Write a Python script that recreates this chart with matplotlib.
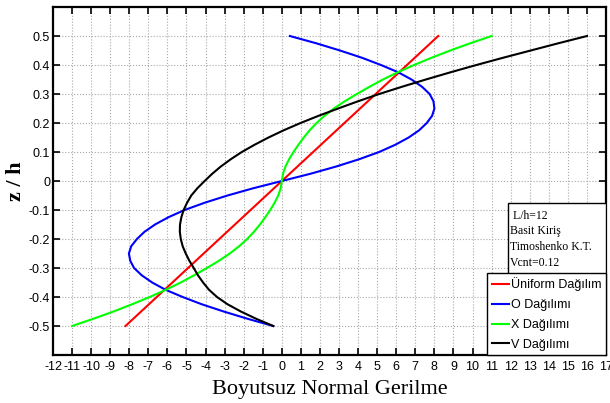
import numpy as np
import matplotlib
matplotlib.use('Agg')
import matplotlib.pyplot as plt
from matplotlib.patches import Rectangle

plt.rcParams['font.family'] = ['Liberation Sans', 'DejaVu Sans']
plt.rcParams['axes.unicode_minus'] = False

# thickness coordinate z/h for the sampled stress profiles
z_h = [-0.5, -0.475, -0.45, -0.425, -0.4, -0.375, -0.35, -0.325, -0.3, -0.275,
       -0.25, -0.225, -0.2, -0.175, -0.15, -0.125, -0.1, -0.075, -0.05, -0.025,
       0.0, 0.025, 0.05, 0.075, 0.1, 0.125, 0.15, 0.175, 0.2, 0.225, 0.25,
       0.275, 0.3, 0.325, 0.35, 0.375, 0.4, 0.425, 0.45, 0.475, 0.5]

# dimensionless normal stress for each CNT distribution
uniform_z = [-0.5, 0.5]
uniform_s = [-8.2, 8.2]
o_s = [-0.45, -1.8, -3.05, -4.2, -5.2, -6.1, -6.8, -7.35, -7.75, -7.95,
       -8.02, -7.9, -7.6, -7.2, -6.65, -5.95, -5.1, -4.05, -2.85, -1.5,
       0.0, 1.5, 2.85, 4.05, 5.1, 5.95, 6.65, 7.2, 7.6, 7.88, 8.0,
       7.95, 7.75, 7.35, 6.8, 6.1, 5.2, 4.2, 3.05, 1.8, 0.42]
x_s = [-11.0, -9.88, -8.83, -7.85, -6.93, -6.08, -5.3, -4.6, -3.93, -3.3,
       -2.73, -2.24, -1.82, -1.46, -1.15, -0.87, -0.61, -0.38, -0.19, -0.06,
       0.0, 0.06, 0.19, 0.38, 0.61, 0.87, 1.15, 1.46, 1.82, 2.24, 2.73,
       3.3, 3.93, 4.6, 5.3, 6.08, 6.93, 7.85, 8.83, 9.88, 11.0]
v_s = [-0.45, -1.35, -2.15, -2.85, -3.4, -3.82, -4.13, -4.4, -4.62, -4.85,
       -5.04, -5.2, -5.3, -5.35, -5.34, -5.27, -5.15, -4.97, -4.75, -4.43,
       -4.05, -3.65, -3.2, -2.68, -2.1, -1.43, -0.7, 0.1, 0.98, 1.93, 2.95,
       4.0, 5.1, 6.3, 7.55, 8.85, 10.2, 11.6, 13.05, 14.5, 16.0]

labels = ['Üniform Dağılım', 'O Dağılımı', 'X Dağılımı', 'V Dağılımı']
info_text = ' L/h=12\nBasit Kiriş\nTimoshenko K.T.\nVcnt=0.12'

xticks = list(range(-12, 18))
yticks = [-0.5, -0.4, -0.3, -0.2, -0.1, 0.0, 0.1, 0.2, 0.3, 0.4, 0.5]
ytick_labels = ['-0.5', '-0.4', '-0.3', '-0.2', '-0.1', '0',
                '0.1', '0.2', '0.3', '0.4', '0.5']

fig = plt.figure(figsize=(6.1, 4.03), dpi=100)
ax = fig.add_axes([0.0869, 0.1191, 0.9066, 0.8635])

ax.plot(uniform_s, uniform_z, color='#ff0000', lw=1.5, label=labels[0])
ax.plot(o_s, z_h, color='#0000ff', lw=1.5, label=labels[1])
ax.plot(x_s, z_h, color='#00ff00', lw=1.5, label=labels[2])
ax.plot(v_s, z_h, color='#000000', lw=1.5, label=labels[3])

ax.set_xlim(-12, 17)
ax.set_ylim(-0.6, 0.6)
ax.set_xticks(xticks)
ax.set_yticks(yticks)
ax.set_yticklabels(ytick_labels)
ax.grid(True, ls=':', color='#a8a8a8', lw=0.8)
ax.tick_params(direction='in', top=True, right=True, length=5, width=1.2,
               labelsize=9)
ax.tick_params(axis='y', pad=2)
ax.tick_params(axis='x', pad=4)
for sp in ax.spines.values():
    sp.set_linewidth(1.6)

ax.set_xlabel('Boyutsuz Normal Gerilme', family='Liberation Serif',
              fontsize=16, labelpad=5)
ax.set_ylabel('z / h', family='Liberation Serif', fontsize=16,
              fontweight='bold', labelpad=2)

# parameter box above the legend
box_x0 = 0.8228
box_y0 = 0.2328
ax.add_patch(Rectangle((box_x0, box_y0), 1.0 - box_x0, 0.204,
                       transform=ax.transAxes, facecolor='white',
                       edgecolor='black', lw=1.0, zorder=5))
ax.text(box_x0 + 0.004, box_y0 + 0.100, info_text, transform=ax.transAxes,
        family='Liberation Serif', fontsize=8.5, va='center', ha='left',
        linespacing=1.42, zorder=6)

leg = ax.legend(loc='lower right', bbox_to_anchor=(1.0, 0.0), borderaxespad=0,
                fancybox=False, framealpha=1, edgecolor='black',
                prop={'family': 'Liberation Sans', 'size': 9},
                handlelength=1.4, handletextpad=0.15, labelspacing=0.62,
                borderpad=0.35)
leg.get_frame().set_linewidth(1.0)
leg.set_zorder(7)

fig.savefig('out.png', dpi=100)
